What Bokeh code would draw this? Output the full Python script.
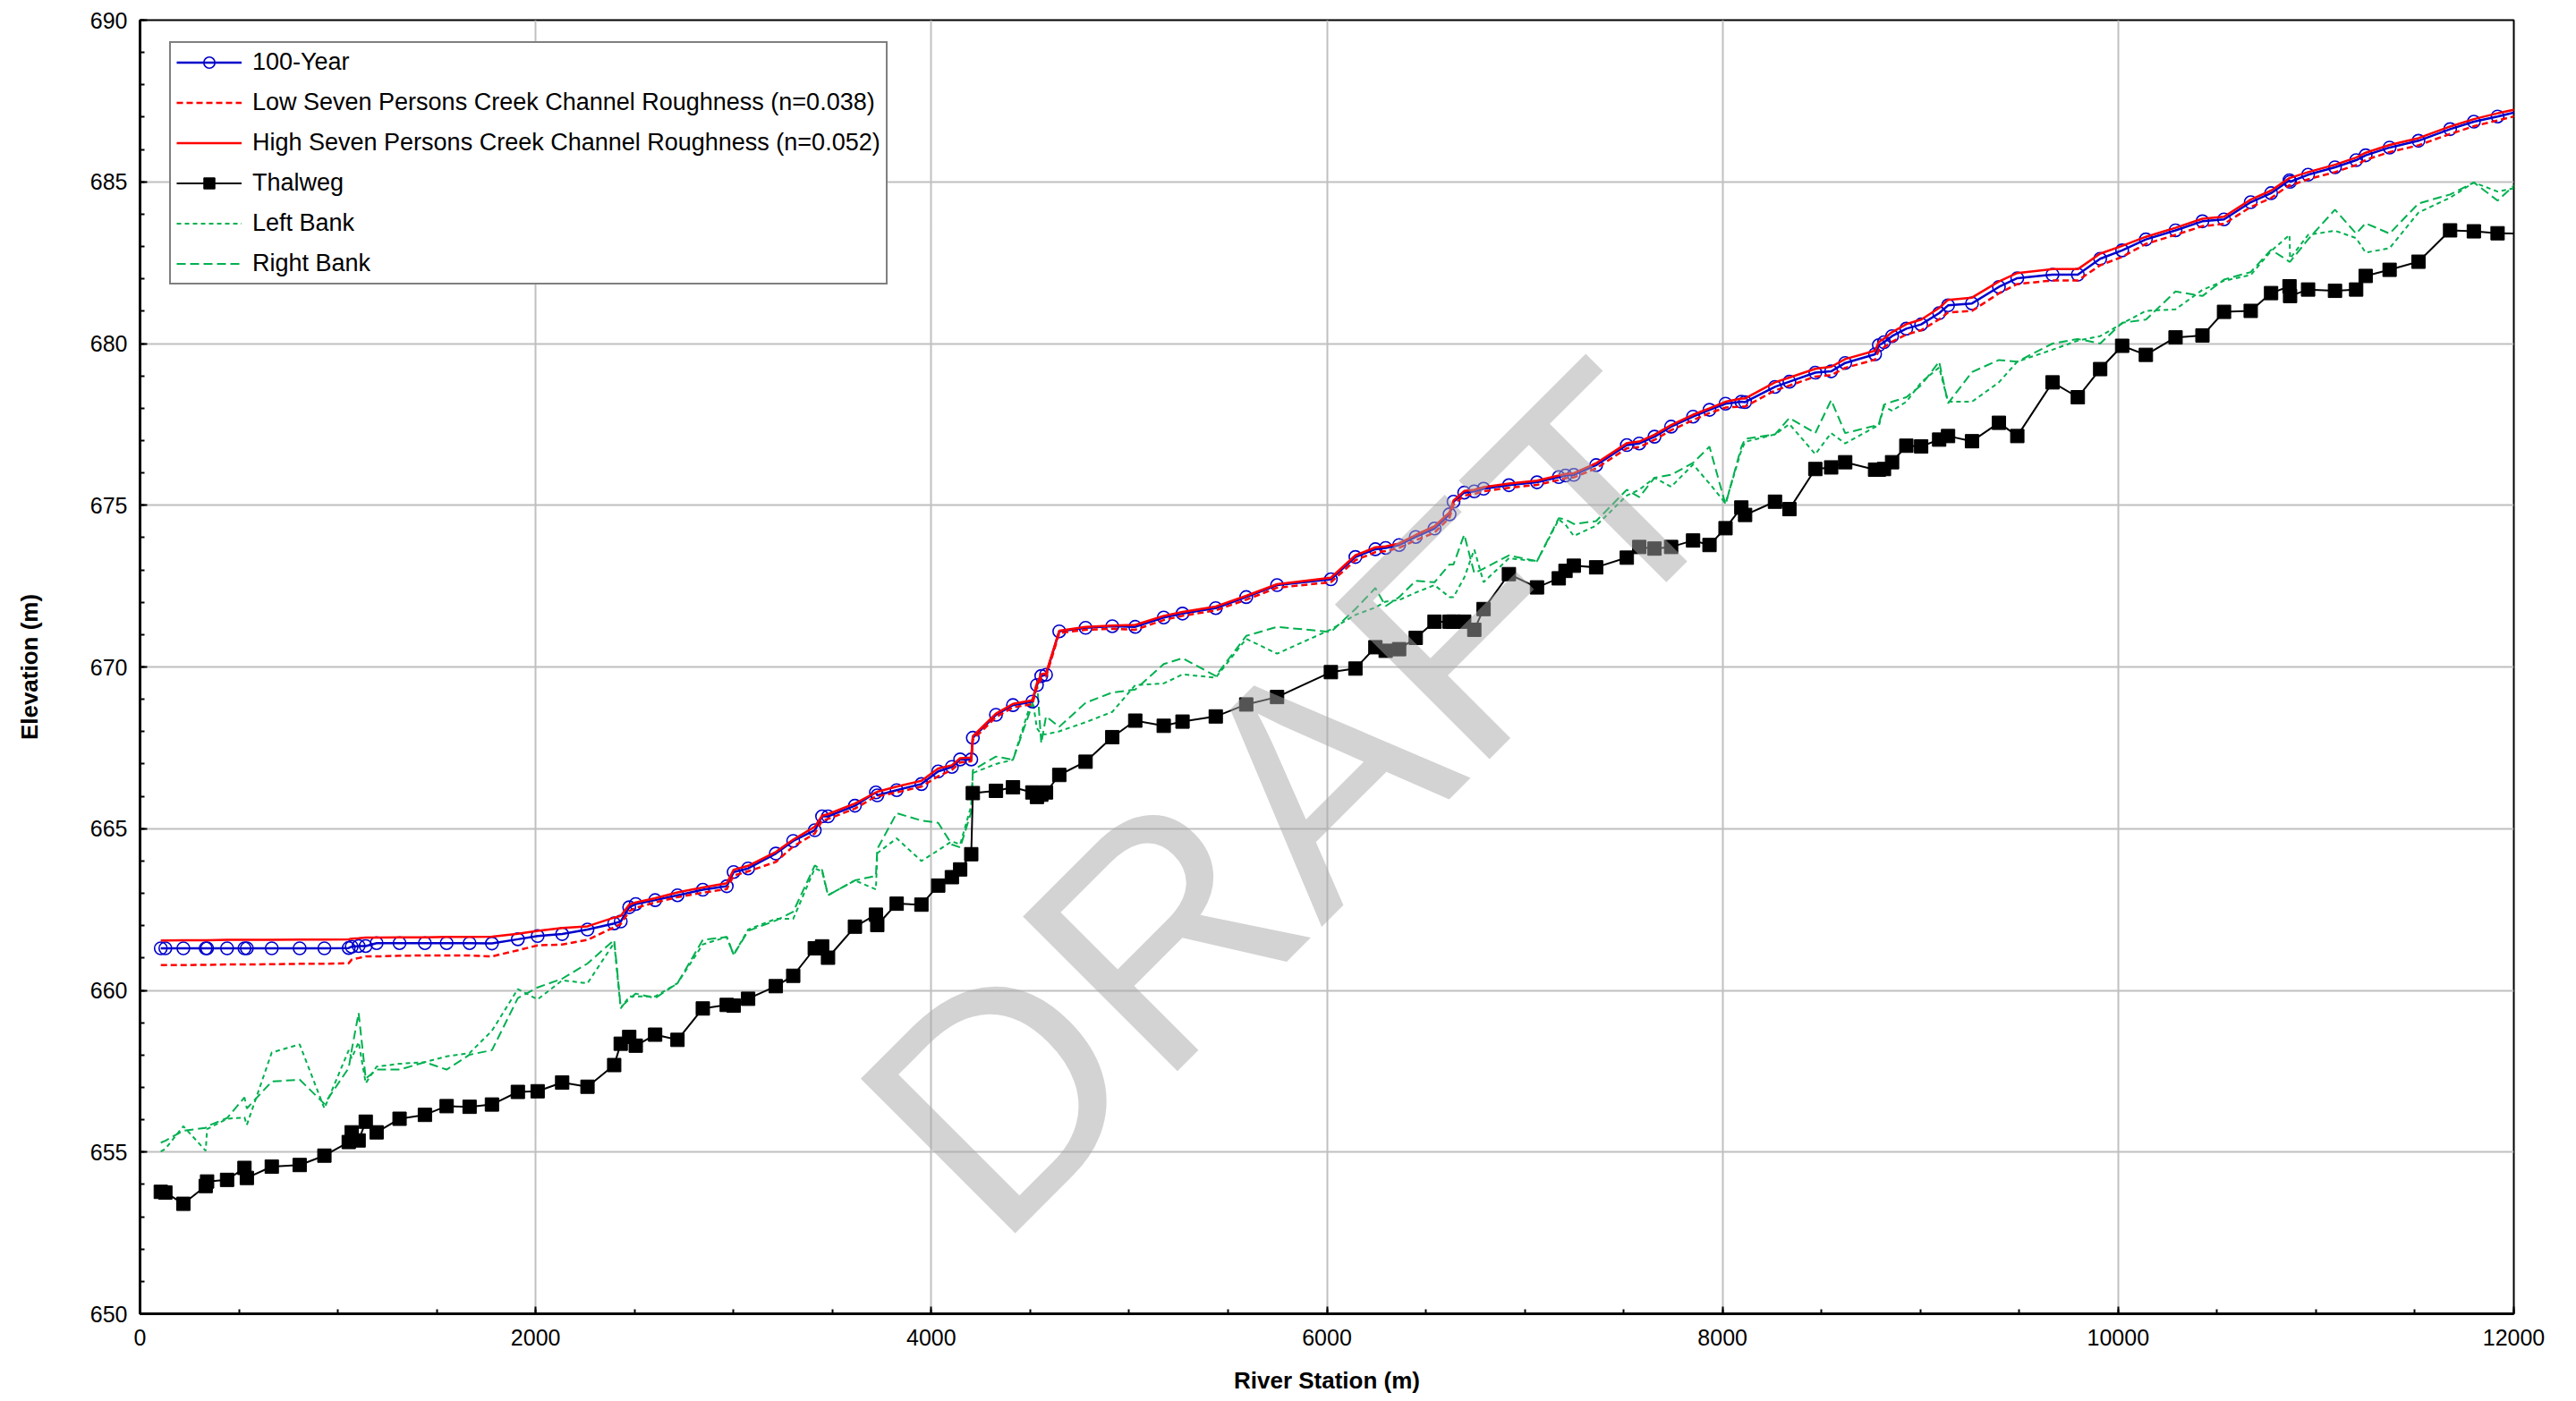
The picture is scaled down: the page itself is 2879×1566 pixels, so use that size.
from bokeh.plotting import figure
from bokeh.models import (ColumnDataSource, Legend, LegendItem, SingleIntervalTicker,
                          Label, Range1d)
from bokeh.embed import file_html
from bokeh.resources import INLINE

# ---------------- data ----------------
station = [
    105, 128, 219, 332, 339, 440, 528, 540, 666, 807, 932, 1055, 1070, 1105, 1141, 1196,
    1312, 1440, 1550, 1666, 1779, 1910, 2010,
    2134, 2262, 2397, 2430, 2473, 2506, 2604, 2717, 2845, 2966, 3001, 3074, 3214, 3302,
    3411, 3448, 3478, 3614, 3720, 3727, 3825, 3950, 4035,
    4104, 4146, 4202, 4210, 4327, 4413, 4511, 4534, 4556, 4580, 4647, 4780, 4915, 5031,
    5175, 5270, 5438, 5592, 5748, 6020,
    6144, 6245, 6297, 6365, 6449, 6544, 6620, 6640, 6694, 6745, 6792, 6920, 7062, 7172,
    7206, 7248, 7361, 7516, 7579, 7656, 7740, 7851, 7934, 8015,
    8095, 8114, 8265, 8338, 8469, 8549, 8620, 8771, 8790, 8816, 8857, 8929, 9004, 9095,
    9140, 9261, 9397, 9490, 9668, 9796, 9909, 10020,
    10140, 10290, 10426, 10535, 10670, 10773, 10866, 10869, 10960, 11096, 11203, 11251,
    11372, 11518, 11678, 11798, 11918, 12040,
]

thalweg = [
    653.77, 653.75, 653.40, 653.95, 654.09, 654.14, 654.51, 654.20, 654.55, 654.60, 654.89,
    655.31, 655.61, 655.36, 655.94, 655.61, 656.03, 656.15, 656.42, 656.40, 656.47, 656.86, 656.88,
    657.15, 657.02, 657.69, 658.35, 658.56, 658.29, 658.63, 658.47, 659.44, 659.55, 659.53,
    659.74, 660.13, 660.45, 661.30, 661.36, 661.01, 661.97, 662.34, 662.02, 662.68, 662.65, 663.24,
    663.50, 663.74, 664.21, 666.10, 666.17, 666.28, 666.12, 665.98, 666.05, 666.12, 666.66,
    667.07, 667.83, 668.34, 668.18, 668.31, 668.47, 668.84, 669.07, 669.84,
    669.95, 670.61, 670.50, 670.55, 670.90, 671.40, 671.40, 671.40, 671.40, 671.15, 671.79,
    672.87, 672.46, 672.74, 672.97, 673.13, 673.08, 673.38, 673.71, 673.66, 673.71, 673.91,
    673.77, 674.29,
    674.93, 674.70, 675.11, 674.88, 676.12, 676.17, 676.33, 676.10, 676.10, 676.12, 676.33,
    676.84, 676.82, 677.03, 677.14, 676.98, 677.55, 677.14, 678.80, 678.34, 679.21, 679.93,
    679.65, 680.19, 680.25, 680.98, 681.01, 681.56, 681.77, 681.47, 681.67, 681.63, 681.67,
    682.09, 682.28, 682.53, 683.50, 683.47, 683.41, 683.40,
]

wse_100yr = [
    661.30, 661.30, 661.30, 661.30, 661.30, 661.30, 661.30, 661.30, 661.30, 661.30, 661.30,
    661.31, 661.35, 661.37, 661.37, 661.46, 661.46, 661.46, 661.46, 661.46, 661.45, 661.58, 661.68,
    661.74, 661.88, 662.07, 662.13, 662.57, 662.67, 662.79, 662.94, 663.11, 663.22, 663.66,
    663.77, 664.23, 664.62, 664.95, 665.38, 665.38, 665.71, 666.12, 666.03, 666.19, 666.38, 666.77,
    666.91, 667.14, 667.14, 667.81, 668.52, 668.82, 668.93, 669.44, 669.72, 669.76, 671.10,
    671.21, 671.26, 671.24, 671.53, 671.65, 671.82, 672.16, 672.53, 672.71,
    673.40, 673.64, 673.68, 673.77, 674.02, 674.28, 674.72, 675.11, 675.39, 675.43, 675.51,
    675.62, 675.71, 675.87, 675.92, 675.94, 676.24, 676.86, 676.91, 677.12, 677.43, 677.74,
    677.95, 678.14,
    678.20, 678.19, 678.66, 678.82, 679.10, 679.14, 679.40, 679.67, 679.95, 680.04, 680.23,
    680.46, 680.59, 680.94, 681.18, 681.24, 681.75, 682.02, 682.13, 682.13, 682.62, 682.88,
    683.22, 683.50, 683.78, 683.84, 684.37, 684.65, 685.05, 685.00, 685.22, 685.45, 685.67,
    685.82, 686.06, 686.27, 686.63, 686.86, 687.02, 687.20,
]

wse_low = [
    660.78, 660.78, 660.78, 660.79, 660.79, 660.80, 660.80, 660.80, 660.81, 660.82, 660.82,
    660.84, 660.95, 661.00, 661.05, 661.05, 661.07, 661.08, 661.08, 661.08, 661.05, 661.24, 661.39,
    661.42, 661.56, 661.95, 662.05, 662.45, 662.55, 662.72, 662.88, 663.02, 663.13, 663.55,
    663.68, 663.97, 664.45, 664.85, 665.25, 665.30, 665.62, 666.00, 666.00, 666.12, 666.30, 666.62,
    666.82, 667.05, 667.08, 667.75, 668.45, 668.75, 668.85, 669.38, 669.65, 669.70, 671.05,
    671.15, 671.18, 671.15, 671.45, 671.58, 671.75, 672.08, 672.45, 672.62,
    673.30, 673.55, 673.58, 673.68, 673.92, 674.15, 674.62, 675.02, 675.30, 675.35, 675.43,
    675.54, 675.63, 675.78, 675.84, 675.86, 676.14, 676.76, 676.80, 677.02, 677.32, 677.63,
    677.85, 678.02,
    678.05, 678.05, 678.55, 678.70, 678.98, 679.02, 679.25, 679.50, 679.80, 679.88, 680.06,
    680.28, 680.41, 680.75, 680.96, 681.01, 681.55, 681.84, 681.95, 681.95, 682.42, 682.68,
    683.08, 683.36, 683.63, 683.70, 684.22, 684.50, 684.90, 684.88, 685.08, 685.30, 685.52,
    685.68, 685.92, 686.13, 686.48, 686.72, 686.90, 687.08,
]

wse_high = [
    661.54, 661.54, 661.55, 661.55, 661.55, 661.56, 661.56, 661.56, 661.56, 661.57, 661.57,
    661.58, 661.60, 661.61, 661.63, 661.63, 661.64, 661.64, 661.65, 661.65, 661.66, 661.75, 661.84,
    661.93, 661.98, 662.25, 662.30, 662.65, 662.72, 662.85, 663.03, 663.18, 663.31, 663.73,
    663.85, 664.28, 664.66, 665.06, 665.40, 665.45, 665.78, 666.12, 666.14, 666.30, 666.48, 666.86,
    666.96, 667.18, 667.20, 667.86, 668.56, 668.86, 668.97, 669.50, 669.78, 669.80, 671.12,
    671.24, 671.28, 671.30, 671.58, 671.70, 671.87, 672.20, 672.56, 672.76,
    673.45, 673.70, 673.73, 673.82, 674.08, 674.35, 674.78, 675.15, 675.44, 675.48, 675.56,
    675.67, 675.76, 675.92, 675.97, 675.99, 676.30, 676.92, 676.97, 677.18, 677.48, 677.80,
    678.00, 678.20,
    678.30, 678.30, 678.80, 678.95, 679.22, 679.28, 679.52, 679.78, 680.05, 680.15, 680.35,
    680.60, 680.74, 681.10, 681.35, 681.42, 681.92, 682.18, 682.30, 682.30, 682.78, 683.02,
    683.30, 683.58, 683.86, 683.92, 684.45, 684.73, 685.12, 685.12, 685.30, 685.53, 685.75,
    685.90, 686.14, 686.35, 686.71, 686.94, 687.12, 687.28,
]

left_bank = [
    655.02, 655.10, 655.80, 655.04, 655.71, 656.03, 656.07, 655.84, 658.08, 658.33, 656.35,
    658.15, 657.90, 658.40, 657.13, 657.64, 657.73, 657.78, 657.96, 658.06, 658.75, 660.04, 659.72,
    660.31, 660.22, 661.47, 659.44, 659.81, 659.81, 659.81, 660.22, 661.42, 661.65, 661.10,
    661.88, 662.21, 662.21, 663.77, 663.68, 662.94, 663.40, 663.12, 664.24, 664.70, 664.00, 664.33,
    664.61, 664.51, 665.71, 666.72, 667.00, 667.13, 669.03, 668.10, 667.92, 667.92, 668.01,
    668.29, 668.61, 669.44, 669.49, 669.77, 669.67, 670.87, 670.41, 671.16,
    671.61, 671.84, 672.02, 672.07, 672.30, 672.53, 672.16, 672.16, 672.76, 673.63, 672.62,
    673.36, 673.27, 674.56, 674.40, 674.05, 674.37, 675.30, 675.48, 675.85, 675.57, 676.26,
    675.67, 675.06,
    676.70, 676.96, 677.19, 677.51, 676.58, 677.23, 676.91, 677.42, 677.45, 678.06, 677.92,
    678.20, 678.80, 679.26, 678.20, 678.20, 678.80, 679.44, 679.81, 680.09, 680.23, 680.62,
    681.01, 681.06, 681.66, 681.94, 682.12, 682.86, 683.36, 682.63, 683.36, 683.49, 683.26,
    682.81, 682.95, 684.05, 684.51, 684.98, 684.70, 684.85,
]

right_bank = [
    655.29, 655.35, 655.66, 655.75, 655.80, 656.05, 656.69, 656.35, 657.18, 657.24, 656.49,
    657.60, 658.15, 659.30, 657.27, 657.55, 657.55, 657.78, 657.55, 658.01, 658.15, 659.76, 660.09,
    660.36, 660.83, 661.56, 659.48, 659.72, 659.90, 659.76, 660.22, 661.56, 661.65, 661.10,
    661.84, 662.16, 662.43, 663.86, 663.72, 662.94, 663.40, 663.54, 664.37, 665.48, 665.25, 665.18,
    664.51, 664.42, 665.52, 666.81, 667.23, 667.13, 668.84, 669.58, 667.64, 668.47, 668.15,
    668.89, 669.21, 669.30, 670.09, 670.27, 669.72, 670.96, 671.24, 671.08,
    671.79, 672.44, 671.88, 672.16, 672.66, 672.62, 673.17, 673.17, 674.09, 672.90, 673.04,
    673.45, 673.27, 674.60, 674.56, 674.42, 674.51, 675.48, 675.25, 675.85, 675.94, 676.31,
    676.81, 675.02,
    676.80, 677.05, 677.19, 677.70, 677.23, 678.25, 677.23, 677.46, 677.50, 678.11, 678.20,
    678.34, 678.71, 679.44, 678.15, 679.12, 679.49, 679.44, 680.00, 680.14, 680.00, 680.64,
    680.74, 681.61, 681.47, 681.98, 682.21, 682.90, 682.53, 682.53, 683.22, 684.14, 683.40,
    683.72, 683.40, 684.33, 684.61, 684.98, 684.42, 685.10,
]

series_labels = [
    "100-Year",
    "Low Seven Persons Creek Channel Roughness (n=0.038)",
    "High Seven Persons Creek Channel Roughness (n=0.052)",
    "Thalweg",
    "Left Bank",
    "Right Bank",
]
x_title = "River Station (m)"
y_title = "Elevation (m)"
watermark = "DRAFT"

# ---------------- styling ----------------
FONT = "Liberation Sans"
BLUE = "#0000CC"
RED = "#FF0000"
GREEN = "#00B050"
GRID = "#C0C0C0"

src = ColumnDataSource(dict(station=station, thalweg=thalweg, wse_100yr=wse_100yr,
                            wse_low=wse_low, wse_high=wse_high,
                            left_bank=left_bank, right_bank=right_bank))

p = figure(width=2879, height=1566,
           x_range=Range1d(0, 12000), y_range=Range1d(650, 690),
           output_backend="svg", toolbar_location=None,
           min_border_left=156, min_border_right=70,
           min_border_top=22, min_border_bottom=98)
p.background_fill_color = "white"
p.border_fill_color = "white"
p.outline_line_color = "black"
p.outline_line_width = 2

xt = SingleIntervalTicker(interval=2000, num_minor_ticks=4)
yt = SingleIntervalTicker(interval=5, num_minor_ticks=5)
p.xaxis.ticker = xt
p.yaxis.ticker = yt
p.xgrid.ticker = xt
p.ygrid.ticker = yt
for g in (p.xgrid, p.ygrid):
    g.grid_line_color = GRID
    g.grid_line_width = 2

for ax in (p.xaxis, p.yaxis):
    ax.axis_line_width = 3
    ax.axis_line_color = "black"
    ax.major_tick_in = 8
    ax.major_tick_out = 0
    ax.minor_tick_in = 5
    ax.minor_tick_out = 0
    ax.major_tick_line_width = 2
    ax.minor_tick_line_width = 2
    ax.major_tick_line_color = "black"
    ax.minor_tick_line_color = "black"
    ax.major_label_text_font = FONT
    ax.major_label_text_font_size = "25px"
    ax.major_label_text_color = "black"
    ax.axis_label_text_font = FONT
    ax.axis_label_text_font_size = "26px"
    ax.axis_label_text_font_style = "bold"
    ax.axis_label_text_color = "black"

p.xaxis.axis_label = x_title
p.yaxis.axis_label = y_title
p.xaxis.major_label_standoff = 17
p.xaxis.axis_label_standoff = 21
p.yaxis.major_label_standoff = 14
p.yaxis.axis_label_standoff = 50

rb = p.line("station", "right_bank", source=src, line_color=GREEN, line_width=2,
            line_dash="10 5")
lb = p.line("station", "left_bank", source=src, line_color=GREEN, line_width=2,
            line_dash="5 4")
tl = p.line("station", "thalweg", source=src, line_color="black", line_width=2)
ts = p.scatter("station", "thalweg", source=src, marker="square", size=15,
               fill_color="black", line_color="black")
wl = p.line("station", "wse_100yr", source=src, line_color=BLUE, line_width=2.5)
wc = p.scatter("station", "wse_100yr", source=src, marker="circle", size=14,
               fill_color=None, line_color=BLUE, line_width=1.6)
lo = p.line("station", "wse_low", source=src, line_color=RED, line_width=2.5,
            line_dash="7 4")
hi = p.line("station", "wse_high", source=src, line_color=RED, line_width=2.5)

wm = Label(x=5830, y=665.9, text=watermark, angle=45, angle_units="deg",
           text_font=FONT, text_font_size="355px", text_color="#a8a8a8",
           text_alpha=0.5, text_align="center", text_baseline="middle")
p.add_layout(wm)

legend = Legend(items=[
    LegendItem(label=series_labels[0], renderers=[wl, wc]),
    LegendItem(label=series_labels[1], renderers=[lo]),
    LegendItem(label=series_labels[2], renderers=[hi]),
    LegendItem(label=series_labels[3], renderers=[tl, ts]),
    LegendItem(label=series_labels[4], renderers=[lb]),
    LegendItem(label=series_labels[5], renderers=[rb]),
], location=(33, 1150))
legend.padding = 6
legend.spacing = 14
legend.label_height = 31
legend.glyph_height = 31
legend.glyph_width = 73
legend.label_standoff = 12
legend.label_text_font = FONT
legend.label_text_font_size = "27px"
legend.label_text_color = "black"
legend.border_line_color = "black"
legend.border_line_width = 2.5
legend.background_fill_color = "white"
legend.background_fill_alpha = 1.0
p.add_layout(legend, "center")

open("out.html", "w").write(file_html(p, INLINE))
